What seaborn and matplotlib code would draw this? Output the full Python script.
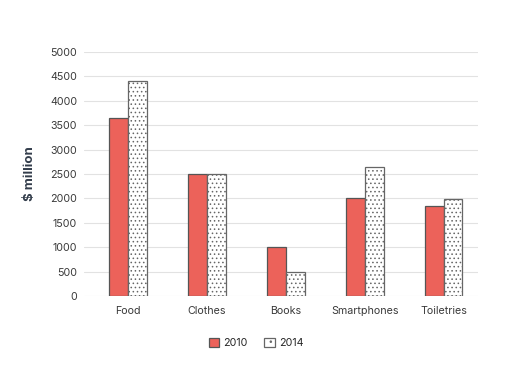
import matplotlib
matplotlib.use("Agg")
import matplotlib.pyplot as plt
import seaborn as sns
import pandas as pd
from matplotlib.patches import Patch

categories = ["Food", "Clothes", "Books", "Smartphones", "Toiletries"]
years = ["2010", "2014"]
values_2010 = [3650, 2500, 1000, 2000, 1850]
values_2014 = [4400, 2500, 500, 2650, 1980]
yticks = [0, 500, 1000, 1500, 2000, 2500, 3000, 3500, 4000, 4500, 5000]

df = pd.DataFrame({
    "Category": categories * 2,
    "Year": [years[0]] * len(categories) + [years[1]] * len(categories),
    "Value": values_2010 + values_2014,
})

sns.set_theme(style="white")
plt.rcParams["font.family"] = ["Inter", "DejaVu Sans"]
plt.rcParams["hatch.linewidth"] = 0.6

red = "#ec625a"
edge = "#555555"

fig = plt.figure(figsize=(5.12, 3.83), dpi=100)
ax = fig.add_axes([0.164, 0.227, 0.770, 0.637])

sns.barplot(data=df, x="Category", y="Value", hue="Year", hue_order=years,
            palette={"2010": red, "2014": "white"}, width=0.48, ax=ax,
            edgecolor=edge, linewidth=0.9, legend=False, errorbar=None, saturation=1)

n = len(categories)
for i, p in enumerate(ax.patches[:2 * n]):
    if i >= n:
        p.set_hatch("....")
        p.set_edgecolor("#666666")

ax.set_xlim(-0.56, 4.44)
ax.set_ylim(0, 5000)
ax.set_yticks(yticks)
ax.set_yticklabels([str(t) for t in yticks], fontsize=7.7, color="#3a3a3a")
ax.tick_params(axis="x", labelsize=7.7, colors="#3a3a3a", length=0, pad=7.5)
ax.tick_params(axis="y", length=0, pad=5)
ax.yaxis.grid(True, color="#e2e2e2", linewidth=0.8)
ax.set_axisbelow(True)
for s in ax.spines.values():
    s.set_visible(False)
ax.set_xlabel("")
ax.set_ylabel("$ million", fontsize=9.5, fontweight="bold", color="#333d4b", labelpad=10)

handles = [Patch(facecolor=red, edgecolor=edge, linewidth=0.9, label="2010"),
           Patch(facecolor="white", edgecolor="#666666", hatch="..", linewidth=0.9, label="2014")]
fig.legend(handles=handles, loc="center", bbox_to_anchor=(0.5, 0.105), ncol=2,
           frameon=False, fontsize=7.7, handlelength=1.0, handleheight=1.0,
           handletextpad=0.4, columnspacing=1.5)

fig.savefig("out.png", dpi=100)
